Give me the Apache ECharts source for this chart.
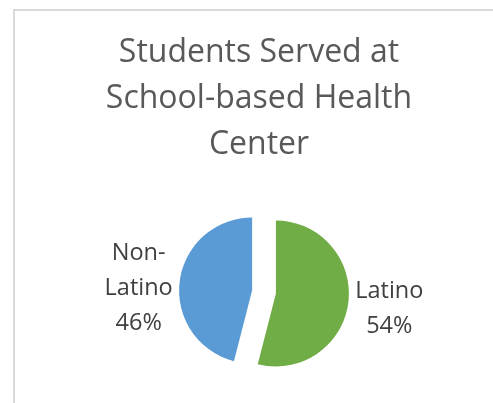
<!DOCTYPE html>
<html>
<head>
<meta charset="utf-8">
<script src="https://cdn.jsdelivr.net/npm/echarts@6/dist/echarts.min.js"></script>
<style>
html,body{margin:0;padding:0;background:#fff;}
#c{width:493px;height:403px;}
</style>
</head>
<body>
<div id="c"></div>
<script>
const titleText = "Students Served at\nSchool-based Health\nCenter";
const categories = ["Latino", "Non-\nLatino"];
const values = [54, 46];
const colors = ["#70AD47", "#5B9BD5"];

const chart = echarts.init(document.getElementById('c'), null, {renderer: 'canvas'});
chart.setOption({
  animation: false,
  backgroundColor: '#ffffff',
  graphic: [{
    type: 'rect',
    shape: {x: 14, y: 10, width: 520, height: 420},
    style: {fill: 'none', stroke: '#D9D9D9', lineWidth: 2},
    silent: true
  }],
  title: {
    text: titleText,
    left: 254,
    textAlign: 'center',
    top: 25,
    textStyle: {
      fontFamily: 'Open Sans',
      fontWeight: 'normal',
      fontSize: 32,
      lineHeight: 46,
      color: '#595959'
    }
  },
  series: [{
    type: 'pie',
    center: [264, 292],
    radius: [0, 73],
    startAngle: 90,
    clockwise: true,
    selectedMode: 'multiple',
    selectedOffset: 12,
    silent: true,
    label: {
      show: true,
      position: 'outside',
      distanceToLabelLine: 6,
      padding: [13, 0, 0, 0],
      formatter: function (p) {
        const lines = (p.name + '\n' + p.percent.toFixed(0) + '%').split('\n');
        return lines.map(l => '{a|' + l + '}').join('\n');
      },
      rich: {
        a: {
          fontFamily: 'Open Sans',
          fontSize: 23.5,
          lineHeight: 35,
          width: 70,
          align: 'center',
          color: '#404040'
        }
      }
    },
    labelLine: {show: false, length: 0, length2: 0},
    itemStyle: {borderWidth: 0},
    data: categories.map((n, i) => ({
      name: n, value: values[i], selected: true,
      itemStyle: {color: colors[i]}
    }))
  }]
});
</script>
</body>
</html>
